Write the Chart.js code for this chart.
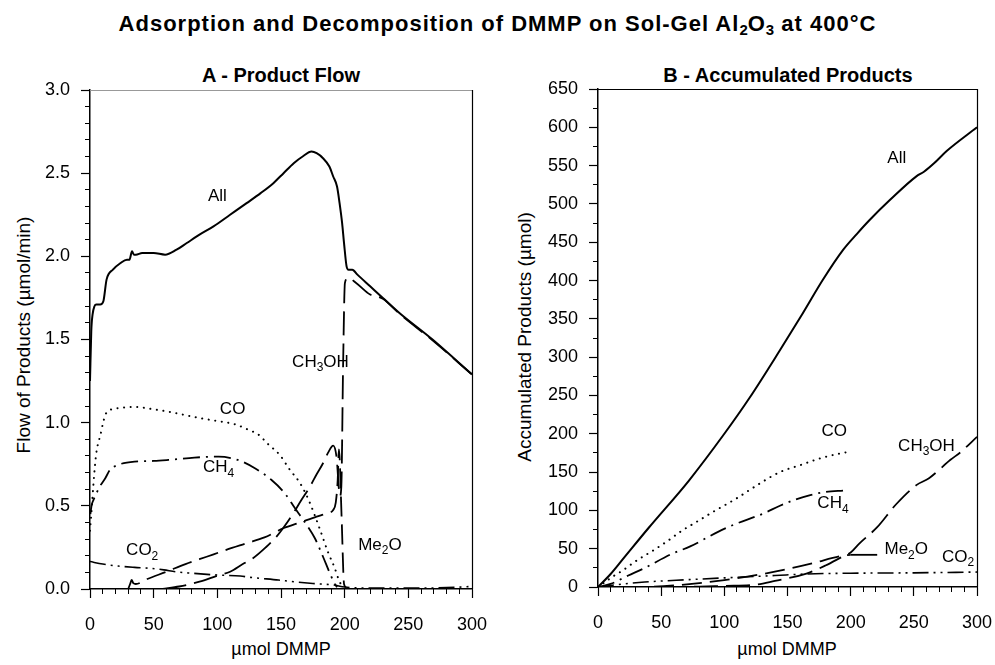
<!DOCTYPE html>
<html>
<head>
<meta charset="utf-8">
<script src="https://cdn.jsdelivr.net/npm/chart.js@4.4.0/dist/chart.umd.min.js"></script>
<style>
  html, body { margin: 0; padding: 0; background: #fff; }
  body { width: 995px; height: 665px; position: relative; overflow: hidden; font-family: "Liberation Sans", Arial, sans-serif; color: #000; }
  .title { position: absolute; left: 0; width: 995px; top: 11px; text-align: center; font-weight: bold; font-size: 22px; letter-spacing: 1px; line-height: 26px; }
  .title sub { font-size: 15px; vertical-align: -4px; line-height: 0; letter-spacing: 0; }
  .sub { position: absolute; top: 63px; width: 400px; text-align: center; font-weight: bold; font-size: 20px; line-height: 24px; }
  .ytitle { position: absolute; font-size: 19px; white-space: nowrap; transform: translate(-50%, -50%) rotate(-90deg); }
  .xtitle { position: absolute; font-size: 18px; white-space: nowrap; transform: translate(-50%, -50%); }
  canvas { position: absolute; top: 0; }
</style>
</head>
<body>
<div class="title">Adsorption and Decomposition of DMMP on Sol-Gel Al<sub>2</sub>O<sub>3</sub> at 400°C</div>
<div class="sub" style="left:81px">A - Product Flow</div>
<div class="sub" style="left:588px">B - Accumulated Products</div>
<div class="ytitle" style="left:24px; top:335px">Flow of Products (µmol/min)</div>
<div class="ytitle" style="left:525px; top:337px">Accumulated Products (µmol)</div>
<div class="xtitle" style="left:281px; top:649px">µmol DMMP</div>
<div class="xtitle" style="left:787px; top:649px">µmol DMMP</div>
<canvas id="chart-a" width="490" height="665" style="left:0"></canvas>
<canvas id="chart-b" width="500" height="665" style="left:495px"></canvas>
<script>
// A - product flow (umol/min) vs umol DMMP
const flowAllX = [0, 1, 2, 3.5, 5, 8, 10.5, 13, 18, 24, 29, 31, 33, 34.5, 36, 41, 50, 59, 68, 76, 86, 97, 110, 123, 134, 144, 152, 160, 167, 174, 178, 183, 188, 191, 194, 196, 198, 199.5, 201.5, 203, 206, 210, 220, 230, 243, 269, 300];
const flowAllY = [1.25, 1.55, 1.65, 1.70, 1.71, 1.71, 1.73, 1.86, 1.92, 1.96, 1.98, 1.98, 2.03, 2.01, 2.01, 2.02, 2.02, 2.01, 2.04, 2.08, 2.13, 2.18, 2.25, 2.32, 2.38, 2.44, 2.50, 2.56, 2.60, 2.63, 2.62, 2.59, 2.54, 2.48, 2.42, 2.32, 2.20, 2.08, 1.94, 1.92, 1.92, 1.89, 1.82, 1.75, 1.66, 1.50, 1.29];

const flowCoX = [0, 1.3, 2.6, 4, 5, 6.5, 8, 10, 12, 14, 17, 25, 35, 50, 61.5, 75, 88, 100, 114, 125, 132, 140, 149, 157, 165, 172, 180.5, 187, 192, 196, 199];
const flowCoY = [0.35, 0.48, 0.62, 0.75, 0.82, 0.88, 0.92, 0.99, 1.046, 1.07, 1.08, 1.09, 1.095, 1.08, 1.066, 1.045, 1.025, 1.01, 0.99, 0.955, 0.93, 0.87, 0.806, 0.716, 0.636, 0.53, 0.36, 0.22, 0.13, 0.044, 0.01];

const flowCh4X = [0.3, 1.3, 3, 5, 8, 12, 15.7, 22, 35, 50, 61.5, 82, 101, 116, 129.5, 142.6, 153, 161, 167.5, 176.6, 183, 188.4, 192, 194];
const flowCh4Y = [0.45, 0.505, 0.54, 0.575, 0.62, 0.666, 0.716, 0.746, 0.766, 0.77, 0.776, 0.79, 0.796, 0.776, 0.726, 0.655, 0.575, 0.485, 0.415, 0.305, 0.194, 0.094, 0.034, 0.01];

const flowCo2X = [0, 10, 22, 35, 48, 58, 67, 80, 100, 118, 126, 148, 160, 175, 191, 200, 220, 250, 280, 300];
const flowCo2Y = [0.165, 0.15, 0.138, 0.13, 0.124, 0.115, 0.104, 0.095, 0.084, 0.078, 0.07, 0.054, 0.044, 0.033, 0.024, 0.012, 0.005, 0.005, 0.008, 0.015];

const flowMe2oX = [30, 31.5, 32.7, 34, 36, 45, 60, 75, 91.6, 107, 123, 137, 151.8, 165, 178, 186, 191, 193, 194.5, 195.5, 197.6, 199.5, 201];
const flowMe2oY = [0.0, 0.03, 0.054, 0.035, 0.03, 0.06, 0.104, 0.15, 0.194, 0.235, 0.275, 0.31, 0.365, 0.40, 0.435, 0.455, 0.475, 0.52, 0.65, 0.84, 0.43, 0.03, 0.01];

const flowMeohX = [57, 70, 86, 100, 110, 120, 128, 138, 146.5, 153, 159.6, 166, 172.7, 178, 183, 187, 191, 193.5, 196.3, 197.4, 198.8, 200.2, 202.8, 209, 220, 230, 243, 269, 300];
const flowMeohY = [0, 0.015, 0.044, 0.08, 0.104, 0.15, 0.185, 0.25, 0.315, 0.38, 0.455, 0.535, 0.615, 0.69, 0.756, 0.82, 0.862, 0.80, 0.56, 0.62, 1.36, 1.84, 1.87, 1.84, 1.77, 1.745, 1.655, 1.495, 1.29];

// B - accumulated products (umol) vs umol DMMP
const accAllX = [0, 10, 20, 40, 72, 100, 120, 144, 162, 178, 194, 205, 215, 231, 252, 258, 266, 276, 300];
const accAllY = [0, 17, 37, 77, 139, 200, 247, 309, 357, 401, 440, 461, 479, 505, 536, 542, 553, 569, 600];

const accCoX = [0, 6, 12, 19, 31, 43, 55, 66, 80, 91, 109, 127, 144, 160, 176, 188, 200];
const accCoY = [0, 7, 14, 21, 35, 47, 60, 73, 87, 98, 115, 134, 150, 159, 168, 173, 177];

const accCh4X = [0, 10, 24, 36, 58, 73, 95, 107, 131, 144, 156, 168, 180, 195];
const accCh4Y = [0, 4, 15, 24, 43, 53, 72, 81, 96, 106, 114, 120, 124, 126];

const accCo2X = [0, 10, 20, 37, 72, 114, 140, 165, 200, 250, 300];
const accCo2Y = [0, 2, 4, 6.5, 9.6, 13, 15, 17, 18, 18.5, 19.5];

const accMe2oX = [0, 30, 60, 100, 140, 170, 191, 200, 221];
const accMe2oY = [0, 0, 2, 9, 20, 31, 40, 42, 42];

const accMeohX = [0, 57, 80, 100, 125, 140, 165, 180, 194, 200, 207, 221, 236, 252, 262, 279, 287, 300];
const accMeohY = [0, 0, 0.5, 1.5, 3, 8, 17.5, 28, 40, 45, 57, 78, 108, 133, 142, 166, 176, 196];

// axis ticks
const flowTicksMajor = 0.5, flowTicksMinor = 0.1;
const accTicksMajor = 50, accTicksMinor = 25;
const dmmpTicksMajor = 50, dmmpTicksMinor = 10;

// curve labels ("_n" = subscript)
const flowLabels = [
    {text: 'All', x: 100, y: 2.36},
    {text: 'CH_3OH', x: 181, y: 1.365},
    {text: 'CO', x: 112, y: 1.08},
    {text: 'CH_4', x: 101, y: 0.73},
    {text: 'CO_2', x: 41, y: 0.23},
    {text: 'Me_2O', x: 227.7, y: 0.265},
];
const accLabels = [
    {text: 'All', x: 236.5, y: 559},
    {text: 'CO', x: 187, y: 203.5},
    {text: 'CH_4', x: 186, y: 109},
    {text: 'CH_3OH', x: 260, y: 184},
    {text: 'Me_2O', x: 244, y: 49},
    {text: 'CO_2', x: 285, y: 39},
];

const FONT = '"Liberation Sans", Arial, sans-serif';
Chart.defaults.font.family = FONT;
Chart.defaults.color = '#000';

function drawRich(ctx, text, cx, cy) {
    const parts = [];
    for (let i = 0; i < text.length; i++) {
        if (text[i] === '_') { parts.push({s: text[i + 1], sub: true}); i++; }
        else parts.push({s: text[i], sub: false});
    }
    let w = 0;
    parts.forEach(p => {
        ctx.font = (p.sub ? '12px ' : '17px ') + FONT;
        p.w = ctx.measureText(p.s).width;
        w += p.w;
    });
    let px = cx - w / 2;
    parts.forEach(p => {
        ctx.font = (p.sub ? '12px ' : '17px ') + FONT;
        ctx.fillText(p.s, px, p.sub ? cy + 6 : cy);
        px += p.w;
    });
}

const curveLabels = {
    id: 'curveLabels',
    afterDatasetsDraw(chart, args, opts) {
        const {ctx, scales: {x, y}} = chart;
        ctx.save();
        ctx.fillStyle = '#000';
        ctx.textAlign = 'left';
        ctx.textBaseline = 'middle';
        (opts.items || []).forEach(it => drawRich(ctx, it.text, x.getPixelForValue(it.x), y.getPixelForValue(it.y)));
        ctx.restore();
    }
};

const frame = {
    id: 'frame',
    afterDraw(chart, args, opts) {
        const {ctx, chartArea: a} = chart;
        ctx.save();
        ctx.lineWidth = 1.2;
        ctx.strokeStyle = opts.topColor || '#000';
        ctx.beginPath(); ctx.moveTo(a.left, a.top + 0.5); ctx.lineTo(a.right, a.top + 0.5); ctx.stroke();
        ctx.strokeStyle = '#000';
        ctx.beginPath(); ctx.moveTo(a.right + 0.5, a.top); ctx.lineTo(a.right + 0.5, a.bottom); ctx.stroke();
        ctx.restore();
    }
};

function pts(xs, ys) {
    return xs.map((x, i) => ({x, y: ys[i]}));
}

function line(label, xs, ys, dash, width, extra) {
    return Object.assign({
        label,
        data: pts(xs, ys),
        borderColor: '#000',
        borderWidth: width,
        borderDash: dash,
        borderCapStyle: 'butt',
        pointRadius: 0,
        fill: false,
        cubicInterpolationMode: 'monotone',
    }, extra || {});
}

function makeScales(ymax, yMajor, yMinor, yWidth, xHeight, tickFmt) {
    const base = {type: 'linear', min: 0};
    return {
        x: Object.assign({}, base, {
            max: 300, position: 'bottom', weight: 1,
            ticks: {stepSize: dmmpTicksMajor, padding: 16, font: {size: 18}, maxRotation: 0, autoSkip: false},
            grid: {drawOnChartArea: false, tickLength: 9, color: '#000', tickWidth: 1.2},
            border: {color: '#000', width: 1.5},
            // keep the plot box fixed: no extra room for the end labels
            afterFit: s => { s.height = xHeight; s.paddingLeft = 0; s.paddingRight = 0; }
        }),
        xm: Object.assign({}, base, {
            max: 300, position: 'bottom', weight: 0,
            ticks: {display: false, stepSize: dmmpTicksMinor},
            grid: {drawOnChartArea: false, tickLength: 5, color: '#000'},
            border: {display: false},
            afterFit: s => { s.height = 0; s.paddingLeft = 0; s.paddingRight = 0; }
        }),
        y: Object.assign({}, base, {
            max: ymax, position: 'left', weight: 1,
            ticks: {stepSize: yMajor, padding: 11, font: {size: 18}, callback: tickFmt},
            grid: {drawOnChartArea: false, tickLength: 9, color: '#000', tickWidth: 1.2},
            border: {color: '#000', width: 1.5},
            afterFit: s => { s.width = yWidth; }
        }),
        ym: Object.assign({}, base, {
            max: ymax, position: 'left', weight: 0,
            ticks: {display: false, stepSize: yMinor},
            grid: {drawOnChartArea: false, tickLength: 5, color: '#000'},
            border: {display: false},
            afterFit: s => { s.width = 0; }
        }),
    };
}

function makeChart(id, datasets, scales, padding, labels, topColor) {
    return new Chart(document.getElementById(id), {
        type: 'line',
        data: {datasets},
        options: {
            responsive: false,
            animation: false,
            layout: {padding},
            scales,
            plugins: {
                legend: {display: false},
                tooltip: {enabled: false},
                curveLabels: {items: labels},
                frame: {topColor}
            }
        },
        plugins: [curveLabels, frame]
    });
}

const DOT = [0.1, 6.5], DASHDOT = [17, 6, 2, 6], DASHDOTDOT = [16, 5, 2, 5, 2, 5], DASH = [20, 8], LONGDASH = [24, 8];

makeChart('chart-a', [
    line('All', flowAllX, flowAllY, [], 2),
    line('CO', flowCoX, flowCoY, DOT, 2, {borderCapStyle: 'round'}),
    line('CH4', flowCh4X, flowCh4Y, DASHDOT, 1.8),
    line('CO2', flowCo2X, flowCo2Y, DASHDOTDOT, 1.6),
    line('Me2O', flowMe2oX, flowMe2oY, DASH, 1.8),
    line('CH3OH', flowMeohX, flowMeohY, LONGDASH, 1.8),
], makeScales(3, flowTicksMajor, flowTicksMinor, 90, 76, v => v.toFixed(1)),
   {top: 90, right: 18, left: 0, bottom: 0}, flowLabels, '#999');

makeChart('chart-b', [
    line('All', accAllX, accAllY, [], 2),
    line('CO', accCoX, accCoY, DOT, 2, {borderCapStyle: 'round'}),
    line('CH4', accCh4X, accCh4Y, DASHDOT, 1.8),
    line('CO2', accCo2X, accCo2Y, DASHDOTDOT, 1.6),
    line('Me2O', accMe2oX, accMe2oY, DASH, 1.8, {
        segment: {borderDash: c => (c.p0DataIndex === accMe2oX.length - 2 ? [] : undefined)}
    }),
    line('CH3OH', accMeohX, accMeohY, LONGDASH, 1.8),
], makeScales(650, accTicksMajor, accTicksMinor, 103, 78, v => String(v)),
   {top: 89, right: 18, left: 0, bottom: 0}, accLabels, '#000');
</script>
</body>
</html>
